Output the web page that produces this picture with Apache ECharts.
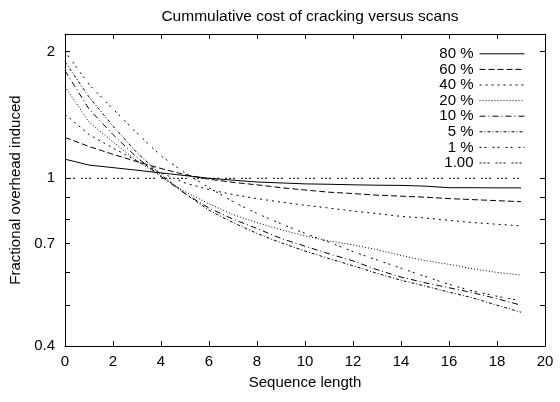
<!DOCTYPE html>
<html>
<head>
<meta charset="utf-8">
<script src="https://cdn.jsdelivr.net/npm/echarts@6/dist/echarts.min.js"></script>
<style>
  html, body { margin: 0; padding: 0; background: #fff; }
  #main { width: 560px; height: 402px; }
</style>
</head>
<body>
<div id="main"></div>
<script>
// sequence length (x)
var seqLen = [0, 1, 2, 3, 4, 5, 6, 7, 8, 9, 10, 11, 12, 13, 14, 15, 16, 17, 18, 19];

// fractional overhead per selectivity
var s80 = [1.11, 1.075, 1.06, 1.045, 1.03, 1.015, 1.0, 0.99, 0.98, 0.975, 0.97, 0.968, 0.965, 0.963, 0.962, 0.958, 0.95, 0.95, 0.949, 0.949];
var s60 = [1.25, 1.19, 1.14, 1.095, 1.055, 1.02, 0.995, 0.978, 0.965, 0.95, 0.938, 0.927, 0.92, 0.912, 0.907, 0.902, 0.895, 0.89, 0.885, 0.88];
var s40 = [1.42, 1.27, 1.18, 1.10, 1.03, 0.975, 0.94, 0.915, 0.895, 0.878, 0.863, 0.85, 0.836, 0.825, 0.812, 0.805, 0.795, 0.785, 0.778, 0.771];
var s20 = [1.65, 1.36, 1.22, 1.10, 1.01, 0.93, 0.87, 0.82, 0.785, 0.755, 0.73, 0.71, 0.695, 0.677, 0.656, 0.638, 0.625, 0.61, 0.598, 0.589];
var s10 = [1.80, 1.46, 1.27, 1.12, 1.01, 0.92, 0.85, 0.80, 0.76, 0.72, 0.69, 0.662, 0.637, 0.607, 0.583, 0.565, 0.55, 0.535, 0.518, 0.50];
var s5  = [1.89, 1.56, 1.33, 1.15, 1.02, 0.92, 0.84, 0.785, 0.74, 0.703, 0.672, 0.645, 0.62, 0.595, 0.573, 0.555, 0.537, 0.52, 0.50, 0.481];
var s1  = [2.0, 1.67, 1.46, 1.28, 1.13, 1.03, 0.95, 0.88, 0.825, 0.78, 0.74, 0.705, 0.67, 0.64, 0.612, 0.585, 0.56, 0.54, 0.525, 0.512];
var sRef = [1, 1, 1, 1, 1, 1, 1, 1, 1, 1, 1, 1, 1, 1, 1, 1, 1, 1, 1, 1];

var names = ['80 %', '60 %', '40 %', '20 %', '10 %', '5 %', '1 %', '1.00'];
var values = [s80, s60, s40, s20, s10, s5, s1, sRef];
var dashes = ['solid', [6, 3], [2, 4], [1, 2], [6, 3, 1, 3], [3, 2, 1, 2], [2, 3, 2, 6], [2, 2, 2, 2, 2, 6]];

var yLabels = [0.4, 0.7, 1, 2];
var yTicks = [0.4, 0.5, 0.6, 0.7, 0.8, 0.9, 1, 2];

var font = 'Liberation Sans, Arial, sans-serif';
var chart = echarts.init(document.getElementById('main'), null, { renderer: 'canvas' });

var series = [];
for (var k = 0; k < names.length; k++) {
  var pts = [];
  for (var i = 0; i < seqLen.length; i++) {
    pts.push([seqLen[i], values[k][i]]);
  }
  series.push({
    name: names[k],
    type: 'line',
    data: pts,
    symbol: 'none',
    animation: false,
    lineStyle: { color: '#000', width: 1, type: dashes[k] },
    itemStyle: { color: '#000' }
  });
}

var axisLine = { show: true, onZero: false, lineStyle: { color: '#000', width: 1 } };
var tick = { show: true, inside: true, length: 5, lineStyle: { color: '#000' } };
var yTick = { show: true, inside: true, length: 5, lineStyle: { color: '#000' }, customValues: yTicks };

var option = {
  backgroundColor: '#fff',
  animation: false,
  title: {
    text: 'Cummulative cost of cracking versus scans',
    left: 305, top: 4, textAlign: 'center',
    textStyle: { fontFamily: font, fontSize: 15.5, fontWeight: 'normal', color: '#000' }
  },
  legend: {
    orient: 'vertical',
    right: 30, top: 41,
    align: 'right',
    itemGap: 0,
    itemWidth: 45, itemHeight: 15.6,
    selectedMode: false,
    data: names,
    itemStyle: { opacity: 0 },
    lineStyle: { width: 1 },
    textStyle: { fontFamily: font, fontSize: 15, lineHeight: 15.6, color: '#000', width: 40, align: 'right', padding: [0, 1, 0, 0] }
  },
  grid: { left: 65, right: 15, top: 34, bottom: 56 },
  xAxis: [{
    type: 'value', min: 0, max: 20, interval: 2,
    name: 'Sequence length', nameLocation: 'middle', nameGap: 29,
    nameTextStyle: { fontFamily: font, fontSize: 15, color: '#000' },
    axisLine: axisLine, axisTick: tick,
    axisLabel: { fontFamily: font, fontSize: 15, color: '#000', margin: 8 },
    splitLine: { show: false }
  }, {
    type: 'value', min: 0, max: 20, interval: 2, position: 'top',
    axisLine: axisLine, axisTick: tick, axisLabel: { show: false }, splitLine: { show: false }
  }],
  yAxis: [{
    type: 'log', logBase: 10, min: 0.4, max: 2.2,
    name: 'Fractional overhead induced', nameLocation: 'middle', nameGap: 38,
    nameTextStyle: { fontFamily: font, fontSize: 15, color: '#000' },
    axisLine: axisLine, axisTick: yTick,
    axisLabel: { fontFamily: font, fontSize: 15, color: '#000', margin: 10, customValues: yLabels },
    splitLine: { show: false }
  }, {
    type: 'log', logBase: 10, min: 0.4, max: 2.2, position: 'right',
    axisLine: axisLine, axisTick: yTick,
    axisLabel: { show: false },
    splitLine: { show: false }
  }],
  series: series
};
chart.setOption(option);
</script>
</body>
</html>
